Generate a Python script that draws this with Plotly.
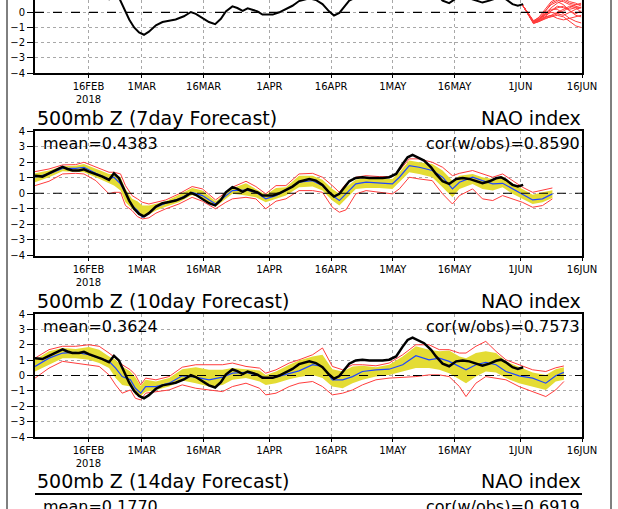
import pandas as pd
import plotly.graph_objects as go

# ---- data (x = days after 3 Feb 2018) ----
obs_days = [0, 1.8, 3.4, 5.0, 6.7, 7.9, 9.1, 10.7, 11.9, 13.1, 14.8, 16.4, 18.0, 19.2, 20.4,
            21.6, 22.9, 24.1, 25.3, 26.5, 27.7, 29.4, 31.0, 32.6, 34.2, 36.2, 37.9, 39.1,
            40.7, 42.3, 43.8, 45.2, 46.4, 48.0, 49.2, 50.5, 51.7, 52.9, 54.1, 55.3, 57.8,
            59.4, 61.0, 62.6, 64.2, 65.9, 66.7, 68.3, 69.9, 71.5, 72.7, 74.0, 75.2, 76.4,
            78.0, 79.6, 81.3, 82.9, 84.5, 86.1, 87.8, 89.4, 90.6, 91.8, 93.0, 94.6, 96.3,
            97.5, 99.1, 100.7, 102.4, 104.0, 105.6, 107.2, 108.8, 110.5, 112.1, 113.3,
            114.5, 116.1, 117.4, 118.7]
obs_vals = [1.13, 1.07, 1.28, 1.5, 1.7, 1.56, 1.46, 1.46, 1.54, 1.39, 1.24, 1.07, 0.86, 1.28,
            0.98, 0.28, -0.47, -1.0, -1.33, -1.48, -1.28, -0.86, -0.64, -0.56, -0.47, -0.26,
            0.02, -0.1, -0.36, -0.64, -0.78, -0.43, 0.06, 0.39, 0.28, 0.09, 0.26, 0.17, 0.06,
            -0.15, -0.15, 0.0, 0.21, 0.43, 0.74, 0.88, 0.92, 0.81, 0.54, 0.06, -0.21, -0.04,
            0.39, 0.77, 0.98, 1.03, 0.98, 0.96, 0.98, 1.03, 1.24, 1.88, 2.31, 2.46, 2.31, 2.1,
            1.67, 1.24, 0.77, 0.6, 0.92, 0.98, 0.92, 0.77, 0.64, 0.77, 0.96, 1.03, 0.86, 0.54,
            0.43, 0.54]

# ensemble members, top panel
ens_days = [118.6, 119.8, 121.2, 122.6, 124.0, 125.5, 127.0, 128.5, 130.0, 131.5, 132.8]
ens_members = [
    [0.45, 0.0, -0.6, -0.5, 0.0, 0.6, 0.8, 0.7, 0.5, 0.4, 0.3],
    [0.45, -0.05, -0.65, -0.45, -0.1, 0.3, 0.6, 0.8, 0.6, 0.5, 0.5],
    [0.45, -0.1, -0.7, -0.6, -0.3, 0.1, 0.4, 0.3, 0.2, 0.3, 0.3],
    [0.45, -0.1, -0.7, -0.55, -0.35, -0.2, 0.0, 0.2, 0.4, 0.3, 0.0],
    [0.45, -0.15, -0.75, -0.6, -0.4, -0.3, -0.2, -0.3, -0.6, -0.9, -1.0],
    [0.45, -0.05, -0.6, -0.4, -0.1, 0.2, 0.2, -0.1, -0.4, -0.6, -0.7],
    [0.45, 0.0, -0.55, -0.35, 0.05, 0.5, 0.7, 0.5, 0.1, -0.2, -0.3],
    [0.45, -0.1, -0.65, -0.5, -0.2, 0.0, -0.1, -0.2, 0.0, 0.2, 0.3],
    [0.45, -0.05, -0.6, -0.3, 0.2, 0.7, 0.9, 0.9, 0.7, 0.6, 0.4],
    [0.45, -0.1, -0.7, -0.5, -0.3, -0.2, -0.4, -0.5, -0.4, -0.3, -0.2],
    [0.45, -0.05, -0.65, -0.45, -0.15, 0.1, 0.3, 0.4, 0.1, -0.1, 0.1],
    [0.45, -0.1, -0.7, -0.6, -0.45, -0.3, -0.1, 0.1, 0.3, 0.5, 0.6],
]

# 7 day forecast
f7_days = [0, 3.4, 6.7, 9.9, 11.9, 14.8, 18.0, 19.2, 20.8, 22.0, 23.6, 24.9, 26.1, 27.7, 29.4,
           31.8, 35.0, 38.2, 40.7, 43.9, 46.4, 48.0, 51.3, 53.7, 56.1, 58.6, 61.0, 64.2, 67.5,
           69.9, 72.3, 74.0, 75.6, 78.0, 80.5, 83.7, 86.9, 88.6, 91.0, 93.4, 96.6, 99.1,
           101.5, 103.2, 106.4, 108.8, 111.3, 113.7, 116.1, 118.5, 121.0, 123.4, 125.8]
f7_max = [1.39, 1.56, 1.82, 1.84, 1.99, 1.71, 1.35, 1.35, 1.24, 0.49, -0.15, -0.36, -0.58, -0.69,
          -0.58, -0.43, -0.04, 0.43, 0.28, -0.43, 0.06, 0.39, 0.77, 0.43, -0.04, 0.49, 0.49,
          1.24, 1.28, 1.03, 0.49, 0.06, 0.6, 1.03, 1.13, 1.07, 1.07, 1.46, 2.21, 2.21, 1.99,
          1.67, 1.13, 1.28, 1.46, 1.24, 1.03, 1.24, 0.81, 0.39, 0.06, 0.21, 0.34]
f7_hi = [1.28, 1.46, 1.73, 1.76, 1.88, 1.56, 1.24, 1.24, 1.03, 0.28, -0.36, -0.51, -0.79, -0.79,
         -0.69, -0.51, -0.09, 0.34, 0.17, -0.51, -0.04, 0.32, 0.64, 0.28, -0.09, 0.34, 0.39,
         1.13, 1.13, 0.86, 0.28, -0.04, 0.39, 0.86, 0.98, 0.92, 0.92, 1.35, 2.1, 1.99, 1.88,
         1.46, 0.81, 1.13, 1.24, 1.03, 0.92, 1.07, 0.64, 0.28, -0.09, 0.06, 0.2]
f7_mean = [1.03, 1.24, 1.6, 1.6, 1.67, 1.28, 0.92, 1.03, 0.6, -0.04, -0.79, -1.11, -1.54, -1.28,
           -0.9, -0.64, -0.36, 0.06, -0.15, -0.69, -0.15, 0.17, 0.21, 0.06, -0.36, -0.15, 0.17,
           0.71, 0.81, 0.49, -0.15, -0.47, -0.04, 0.6, 0.71, 0.64, 0.6, 1.03, 1.78, 1.67, 1.46,
           1.03, 0.28, 0.71, 1.03, 0.81, 0.6, 0.64, 0.28, -0.04, -0.43, -0.36, -0.04]
f7_lo = [0.71, 1.03, 1.41, 1.39, 1.35, 1.03, 0.6, 0.49, 0.17, -0.58, -1.0, -1.33, -1.58, -1.37,
         -1.11, -0.86, -0.58, -0.11, -0.36, -0.86, -0.36, -0.04, -0.15, -0.26, -0.58, -0.36,
         -0.15, 0.39, 0.43, 0.17, -0.47, -0.79, -0.36, 0.28, 0.34, 0.34, 0.28, 0.71, 1.35,
         1.24, 1.03, 0.39, -0.26, 0.28, 0.6, 0.28, 0.17, 0.39, -0.04, -0.36, -0.69, -0.58, -0.3]
f7_min = [0.49, 0.77, 1.24, 1.28, 1.24, 0.81, -0.04, 0.06, 0.06, -0.79, -1.11, -1.5, -1.65,
          -1.58, -1.28, -1.0, -0.69, -0.26, -0.51, -1.0, -0.58, -0.36, -0.26, -0.36, -1.0,
          -0.51, -0.36, 0.17, 0.17, 0.06, -0.9, -1.22, -1.07, -0.04, 0.17, 0.06, -0.04, 0.28,
          1.03, 0.92, 0.81, -0.04, -0.69, -0.15, 0.28, -0.36, -0.47, -0.15, -0.36, -0.58,
          -0.9, -0.79, -0.36]

# 10 day forecast
f10_days = [0, 3.4, 6.7, 9.9, 13.1, 15.6, 18.0, 19.6, 21.2, 23.2, 24.4, 25.7, 26.9, 29.4, 32.6,
            35.8, 39.1, 42.3, 45.6, 48.0, 51.3, 54.6, 56.1, 58.6, 61.8, 64.2, 67.5, 69.9, 72.3,
            74.8, 77.2, 79.6, 82.9, 86.1, 89.4, 92.6, 95.8, 98.3, 100.7, 103.2, 104.8, 107.2,
            109.6, 112.1, 114.5, 117.7, 121.0, 124.2, 126.6, 128.6]
f10_max = [1.13, 1.68, 1.9, 1.9, 2.0, 1.9, 1.46, 1.13, 0.7, 0.37, 0.04, -0.61, -0.17, -0.28,
           -0.07, 0.54, 0.7, 0.7, 0.7, 0.81, 0.59, 0.48, 0.15, 0.37, 0.81, 1.02, 1.35, 1.79,
           0.59, 0.37, 0.7, 0.7, 0.63, 0.81, 1.35, 2.0, 2.0, 1.68, 1.68, 1.46, 1.46, 1.9, 2.22,
           1.57, 1.02, 0.7, 0.37, 0.26, 0.5, 0.62]
f10_hi = [1.02, 1.57, 1.79, 1.72, 1.85, 1.68, 1.24, 1.02, 0.59, 0.26, -0.11, -0.68, -0.28, -0.39,
          -0.17, 0.41, 0.54, 0.37, 0.37, 0.48, 0.41, 0.33, 0.04, 0.26, 0.7, 0.97, 1.24, 1.35,
          0.41, 0.26, 0.59, 0.63, 0.54, 0.7, 1.24, 1.9, 1.68, 1.57, 1.63, 1.24, 1.13, 1.46,
          1.57, 1.46, 0.92, 0.54, 0.2, 0.04, 0.41, 0.54]
f10_mean = [0.59, 1.13, 1.46, 1.5, 1.35, 1.13, 0.92, 0.48, -0.07, -0.28, -0.83, -1.15, -0.72,
            -0.72, -0.5, -0.02, -0.11, -0.28, -0.11, 0.15, 0.2, -0.02, -0.17, -0.11, 0.15, 0.3,
            0.7, 0.59, -0.28, -0.28, -0.07, 0.26, 0.37, 0.41, 0.7, 1.29, 1.02, 1.13, 0.92, 0.59,
            0.37, 0.7, 0.85, 0.7, 0.26, -0.02, -0.17, -0.5, -0.02, 0.2]
f10_lo = [0.26, 0.7, 1.13, 1.13, 1.02, 0.81, 0.48, -0.17, -0.61, -0.72, -1.26, -1.33, -1.05,
          -0.94, -0.72, -0.33, -0.5, -0.72, -0.61, -0.28, -0.17, -0.39, -0.61, -0.5, -0.24,
          -0.1, 0.04, -0.17, -0.72, -0.83, -0.5, -0.28, -0.07, 0.04, 0.26, 0.48, 0.48, 0.37,
          0.15, -0.28, -0.5, -0.07, 0.26, 0.2, -0.17, -0.5, -0.72, -0.94, -0.39, -0.28]
f10_min = [-0.17, 0.48, 0.92, 0.81, 0.7, 0.59, 0.04, -0.61, -1.15, -0.94, -1.48, -1.59, -1.15,
           -1.05, -0.94, -0.61, -0.83, -0.94, -1.05, -0.72, -0.5, -0.83, -1.26, -1.15, -0.72,
           -0.5, -0.39, -0.72, -1.26, -1.15, -0.94, -0.61, -0.28, -0.17, -0.11, -0.07, 0.04,
           0.04, -0.07, -0.72, -1.37, -0.5, -0.07, -0.17, -0.28, -0.72, -1.05, -1.37, -0.94,
           -0.39]

tick_dates = ["2018-02-16", "2018-03-01", "2018-03-16", "2018-04-01", "2018-04-16",
              "2018-05-01", "2018-05-16", "2018-06-01", "2018-06-16"]
tick_labels = ["16FEB<br>2018", "1MAR", "16MAR", "1APR", "16APR", "1MAY", "16MAY", "1JUN", "16JUN"]

panel_titles = ["500mb Z (7day Forecast)", "500mb Z (10day Forecast)", "500mb Z (14day Forecast)"]
panel_means = ["mean=0.4383", "mean=0.3624", "mean=0.1770"]
panel_cors = ["cor(w/obs)=0.8590", "cor(w/obs)=0.7573", "cor(w/obs)=0.6919"]

# ---- helpers ----
W, H = 618, 509
base = pd.Timestamp("2018-02-03")


def dates(days):
    return base + pd.to_timedelta(pd.Series(days), unit="D")


def px(x):
    return x / W


def py(y):
    return 1 - y / H


FONT = "DejaVu Sans"
YELLOW = "rgb(228,220,52)"
RED = "rgb(255,60,60)"
BLUE = "rgb(30,70,255)"

fig = go.Figure()

# panels: (axis suffix, top px, bottom px, y range)
panels = [("", 0, 73, [-4, 0.81]),
          ("2", 131, 255.5, [-4, 4]),
          ("3", 314, 437, [-4, 4]),
          ("4", 494, 509, [3.03, 4])]

x_dom = [px(35), px(582)]
for i, (s, top, bot, yr) in enumerate(panels):
    xa = dict(
        domain=x_dom, anchor="y" + s, type="date",
        range=[base, base + pd.Timedelta(days=133)],
        tickvals=tick_dates, ticktext=tick_labels,
        showticklabels=(i < 3),
        tickfont=dict(family=FONT, size=10, color="black"),
        ticks="outside", ticklen=3, tickcolor="black",
        showgrid=True, gridcolor="#a8a8a8", griddash="dot", gridwidth=1,
        showline=(i < 3), linecolor="black", linewidth=2,
        mirror=(i in (1, 2)), zeroline=False, automargin=False,
    )
    ya = dict(
        domain=[py(bot), py(top)], anchor="x" + s, range=yr,
        tickvals=[-4, -3, -2, -1, 0, 1, 2, 3, 4],
        ticktext=["−4", "−3", "−2", "−1", "0", "1", "2", "3", "4"],
        tickfont=dict(family=FONT, size=10, color="black"),
        ticks="outside", ticklen=6, tickcolor="black",
        showgrid=True, gridcolor="#a8a8a8", griddash="dot", gridwidth=1,
        showline=True, linecolor="black", linewidth=2, mirror=True, zeroline=False,
        automargin=False,
    )
    fig.update_layout(**{"xaxis" + s: xa, "yaxis" + s: ya})
    # dashed zero line
    if yr[0] < 0 < yr[1]:
        fig.add_shape(type="line", xref="x" + s + " domain", yref="y" + s,
                      x0=0, x1=1, y0=0, y1=0, line=dict(color="black", width=1.2, dash="dash"))

# panel 4 top border (x axis line would sit at the bottom edge)
fig.add_shape(type="line", xref="paper", yref="paper", x0=x_dom[0], x1=x_dom[1],
              y0=py(494), y1=py(494), line=dict(color="black", width=2))


def add_panel(s, days, vmax, vhi, vmean, vlo, vmin):
    xs = dates(days)
    ax = dict(xaxis="x" + s, yaxis="y" + s)
    fig.add_trace(go.Scatter(x=xs, y=vlo, mode="lines", line=dict(width=0, color=YELLOW),
                             showlegend=False, hoverinfo="skip", **ax))
    fig.add_trace(go.Scatter(x=xs, y=vhi, mode="lines", line=dict(width=0, color=YELLOW),
                             fill="tonexty", fillcolor=YELLOW, showlegend=False,
                             hoverinfo="skip", **ax))
    for v in (vmax, vmin):
        fig.add_trace(go.Scatter(x=xs, y=v, mode="lines", line=dict(width=1, color=RED),
                                 showlegend=False, **ax))
    fig.add_trace(go.Scatter(x=xs, y=vmean, mode="lines", line=dict(width=1.2, color=BLUE),
                             showlegend=False, **ax))
    fig.add_trace(go.Scatter(x=dates(obs_days), y=obs_vals, mode="lines",
                             line=dict(width=2.5, color="black"), showlegend=False, **ax))


# top panel: observations + ensemble members
for m in ens_members:
    fig.add_trace(go.Scatter(x=dates(ens_days), y=m, mode="lines",
                             line=dict(width=1, color=RED), showlegend=False,
                             xaxis="x", yaxis="y"))
fig.add_trace(go.Scatter(x=dates(obs_days), y=obs_vals, mode="lines",
                         line=dict(width=2, color="black"), showlegend=False,
                         xaxis="x", yaxis="y"))

add_panel("2", f7_days, f7_max, f7_hi, f7_mean, f7_lo, f7_min)
add_panel("3", f10_days, f10_max, f10_hi, f10_mean, f10_lo, f10_min)

# panel texts
for title, mean, cor, top in zip(panel_titles, panel_means, panel_cors, [131, 314, 494]):
    fig.add_annotation(text=title, xref="paper", yref="paper", x=px(35), y=py(top),
                       xanchor="left", yanchor="bottom", showarrow=False,
                       font=dict(family=FONT, size=19, color="black"))
    fig.add_annotation(text="NAO index", xref="paper", yref="paper", x=px(583), y=py(top),
                       xanchor="right", yanchor="bottom", showarrow=False,
                       font=dict(family=FONT, size=19, color="black"))
    fig.add_annotation(text=mean, xref="paper", yref="paper", x=px(41), y=py(top + 1),
                       xanchor="left", yanchor="top", showarrow=False,
                       font=dict(family=FONT, size=16, color="black"))
    fig.add_annotation(text=cor, xref="paper", yref="paper", x=px(582), y=py(top + 1),
                       xanchor="right", yanchor="top", showarrow=False,
                       font=dict(family=FONT, size=16, color="black"))

# outer frame lines
for xv in (7, 611):
    fig.add_shape(type="line", xref="paper", yref="paper", x0=px(xv), x1=px(xv), y0=0, y1=1,
                  line=dict(color="black", width=1))

fig.update_layout(
    width=W, height=H, autosize=False,
    margin=dict(l=0, r=0, t=0, b=0, pad=0),
    paper_bgcolor="white", plot_bgcolor="white",
    showlegend=False,
)

fig.write_html(
    "out.html",
    config={"displayModeBar": False, "responsive": False},
    post_script="document.body.style.margin='0';document.body.style.overflow='hidden';"
                "document.documentElement.style.overflow='hidden';"
                "Plotly.relayout('{plot_id}', {width: window.innerWidth, height: window.innerHeight});",
)
